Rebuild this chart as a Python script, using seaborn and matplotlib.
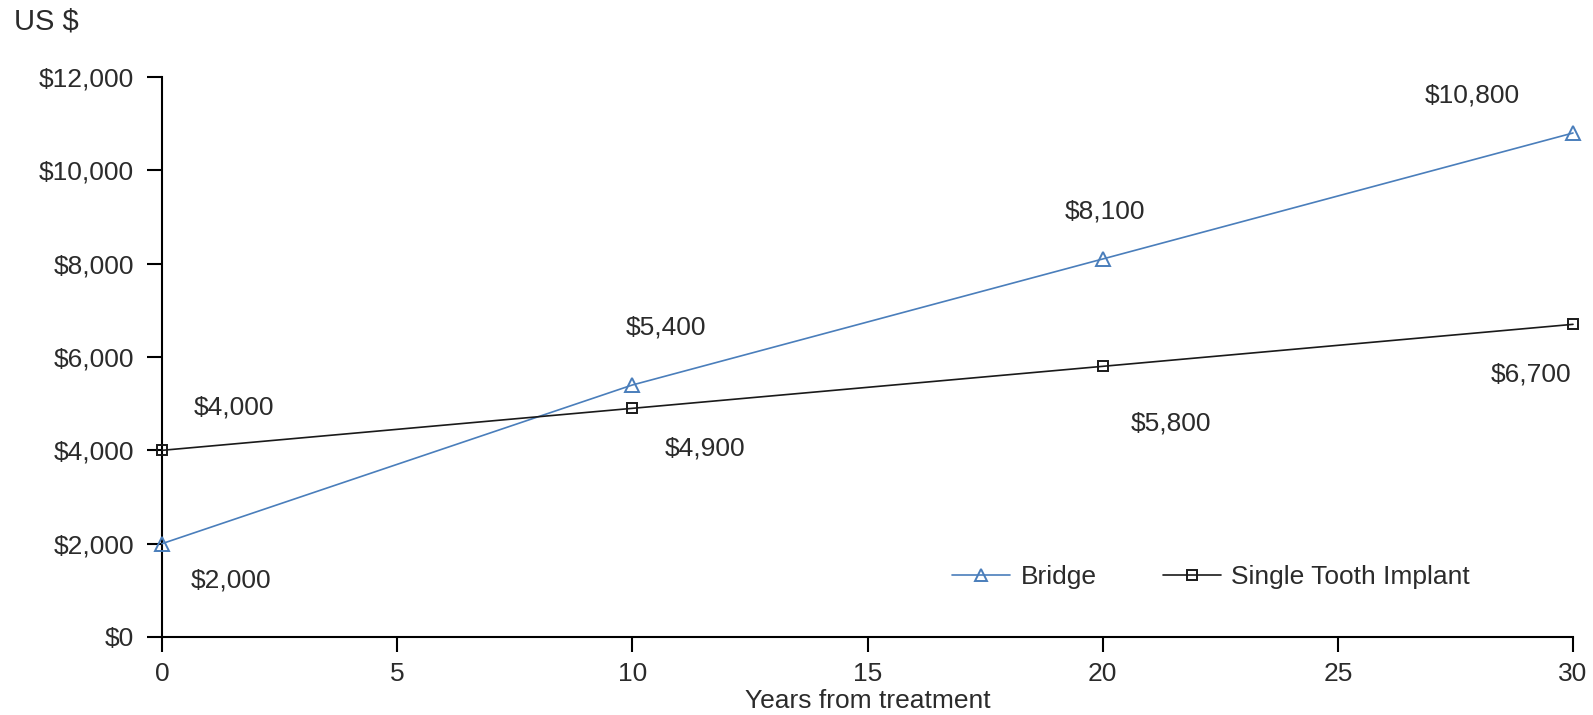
import matplotlib
matplotlib.use("Agg")
import matplotlib.pyplot as plt
from matplotlib.lines import Line2D
import seaborn as sns
import pandas as pd
from matplotlib.ticker import FuncFormatter, MultipleLocator

years = [0, 10, 20, 30]
bridge = [2000, 5400, 8100, 10800]
implant = [4000, 4900, 5800, 6700]
series_names = ["Bridge", "Single Tooth Implant"]

df = pd.DataFrame({
    "Years": years * 2,
    "Cost": bridge + implant,
    "Series": [series_names[0]] * 4 + [series_names[1]] * 4,
})

sns.set_theme(style="white")
plt.rcParams['font.family'] = ['Liberation Sans', 'DejaVu Sans']

W, H = 1593, 715
fig = plt.figure(figsize=(W / 100, H / 100), dpi=100)
ax = fig.add_axes([162 / W, 1 - 637 / H, (1573 - 162) / W, 560 / H])

blue = "#4a7ebb"
black = "#1a1a1a"
txt = "#2b2b2b"
FS = 19

sns.lineplot(data=df, x="Years", y="Cost", hue="Series", style="Series",
             palette={series_names[0]: blue, series_names[1]: black},
             markers={series_names[0]: "^", series_names[1]: "s"},
             dashes=False, ax=ax, linewidth=1.2, legend=False)
styles = [(blue, 9.5), (black, 7.5)]
for line, (c, ms) in zip(ax.lines, styles):
    line.set_markerfacecolor("none")
    line.set_markeredgecolor(c)
    line.set_markeredgewidth(1.4)
    line.set_markersize(ms)
    line.set_clip_on(False)
    line.set_zorder(5)

ax.set_xlim(0, 30)
ax.set_ylim(0, 12000)
ax.xaxis.set_major_locator(MultipleLocator(5))
ax.yaxis.set_major_locator(MultipleLocator(2000))
ax.yaxis.set_major_formatter(FuncFormatter(lambda v, p: f"${int(v):,}"))

for s in ["top", "right"]:
    ax.spines[s].set_visible(False)
for s in ["left", "bottom"]:
    ax.spines[s].set_color("black")
    ax.spines[s].set_linewidth(1.5)
ax.tick_params(axis="both", which="major", direction="out", length=11, width=1.5,
               color="black", labelsize=FS, labelcolor=txt, left=True, bottom=True)
ax.tick_params(axis="y", pad=9)
ax.tick_params(axis="x", pad=7)
ax.set_ylabel("")
ax.set_xlabel("Years from treatment", fontsize=FS, color=txt)
ax.xaxis.set_label_coords(0.5, -(701 - 637) / 560)
ax.xaxis.label.set_va("center")

fig.text(14 / W, 1 - 22 / H, "US $", fontsize=FS + 2, color=txt, ha="left", va="center")

fmt = lambda v: f"${v:,}"
bridge_off = [(69, -37), (34, 58), (2, 47), (-101, 37)]
implant_off = [(72, 43), (73, -40), (68, -57), (-42, -50)]
for x, y, o in zip(years, bridge, bridge_off):
    ax.annotate(fmt(y), (x, y), xytext=o, textcoords="offset pixels",
                ha="center", va="center", fontsize=FS, color=txt)
for x, y, o in zip(years, implant, implant_off):
    ax.annotate(fmt(y), (x, y), xytext=o, textcoords="offset pixels",
                ha="center", va="center", fontsize=FS, color=txt)

handles = [
    Line2D([], [], color=blue, lw=1.2, marker="^", markersize=8,
           markerfacecolor="none", markeredgecolor=blue, markeredgewidth=1.4),
    Line2D([], [], color=black, lw=1.2, marker="s", markersize=7,
           markerfacecolor="none", markeredgecolor=black, markeredgewidth=1.4),
]
leg = fig.legend(handles, series_names, loc="center left",
                 bbox_to_anchor=(952 / W, 1 - 577 / H), ncol=2, frameon=False,
                 fontsize=FS, handlelength=2.2, columnspacing=2.5, handletextpad=0.4,
                 borderpad=0, borderaxespad=0)
for t in leg.get_texts():
    t.set_color(txt)

fig.savefig("out.png", dpi=100)
